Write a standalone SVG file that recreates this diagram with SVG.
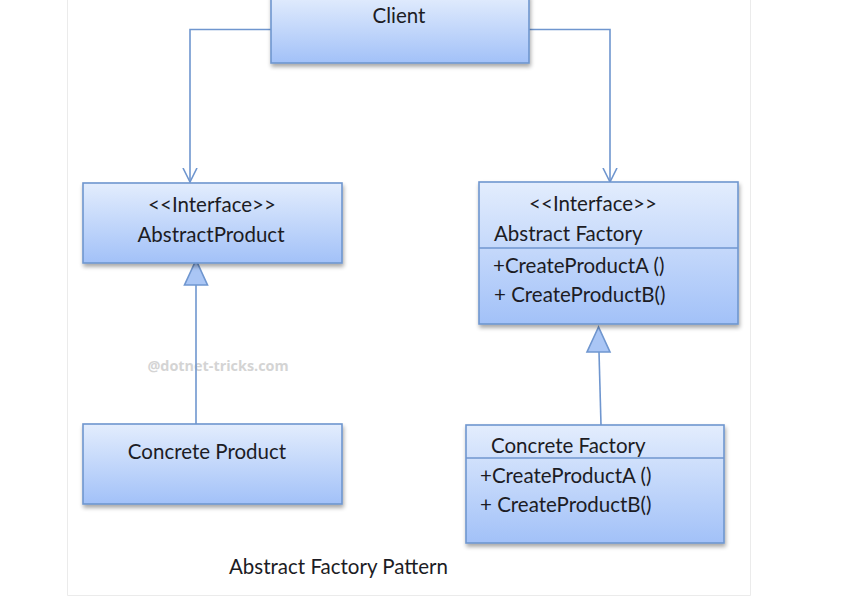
<svg xmlns="http://www.w3.org/2000/svg" width="868" height="596" viewBox="0 0 868 596">
<defs>
<linearGradient id="g" x1="0" y1="0" x2="0" y2="1">
<stop offset="0" stop-color="#e3edfd"/>
<stop offset="1" stop-color="#a2c1f8"/>
</linearGradient>
<filter id="sh" x="-5%" y="-5%" width="112%" height="125%">
<feGaussianBlur in="SourceAlpha" stdDeviation="2"/>
<feOffset dx="1" dy="3" result="b"/>
<feComponentTransfer><feFuncA type="linear" slope="0.35"/></feComponentTransfer>
<feMerge><feMergeNode/><feMergeNode in="SourceGraphic"/></feMerge>
</filter>
<marker id="open" markerWidth="16" markerHeight="16" refX="14" refY="8" orient="auto" markerUnits="userSpaceOnUse">
<path d="M0,1 L14,8 L0,15" fill="none" stroke="#6f96cf" stroke-width="1.6"/>
</marker>
</defs>
<style>
.box{fill:url(#g);stroke:#6f96cf;stroke-width:1.6;filter:url(#sh)}
.div{stroke:#6f96cf;stroke-width:1.4}
.t{font-family:Lato,"Liberation Sans",sans-serif;font-size:20.5px;fill:#1c1c24}
.c{stroke:#6f96cf;stroke-width:1.6;fill:none}
.tri{fill:#aac6f5;stroke:#6f96cf;stroke-width:1.6}
</style>
<rect x="0" y="0" width="868" height="596" fill="#ffffff"/>
<path d="M67.5,0 V595.5 H750.5 V0" fill="none" stroke="#ebebeb" stroke-width="1"/>
<text x="218" y="371" font-family="'Open Sans','DejaVu Sans',sans-serif" font-size="14.4px" font-weight="bold" fill="#d4d4d4" text-anchor="middle">@dotnet-tricks.com</text>
<g id="connectors">
<path class="c" d="M271,29.5 H190 V182" marker-end="url(#open)"/>
<path class="c" d="M529,29.5 H610 V182" marker-end="url(#open)"/>
<line class="c" x1="196" y1="285" x2="196" y2="424"/>
<polygon class="tri" points="196,260 184.5,285 207.5,285"/>
<line class="c" x1="599" y1="352" x2="601" y2="425"/>
<polygon class="tri" points="598.5,327 587,352 610,352"/>
</g>
<g id="client">
<rect class="box" x="271" y="-5" width="258" height="68"/>
<text class="t" x="399" y="23" text-anchor="middle">Client</text>
</g>
<g id="abstract-product">
<rect class="box" x="83" y="183" width="259" height="80"/>
<text class="t" x="212" y="212" text-anchor="middle">&lt;&lt;Interface&gt;&gt;</text>
<text class="t" x="211" y="242" text-anchor="middle">AbstractProduct</text>
</g>
<g id="abstract-factory">
<rect class="box" x="479" y="182" width="259" height="142"/>
<line class="div" x1="479" y1="248" x2="738" y2="248"/>
<text class="t" x="593" y="211" text-anchor="middle">&lt;&lt;Interface&gt;&gt;</text>
<text class="t" x="494" y="241">Abstract Factory</text>
<text class="t" x="493" y="273">+CreateProductA ()</text>
<text class="t" x="494" y="302">+ CreateProductB()</text>
</g>
<g id="concrete-product">
<rect class="box" x="83" y="424" width="259" height="80"/>
<text class="t" x="207" y="459" text-anchor="middle">Concrete Product</text>
</g>
<g id="concrete-factory">
<rect class="box" x="466" y="425" width="258" height="118"/>
<line class="div" x1="466" y1="458" x2="724" y2="458"/>
<text class="t" x="491" y="453">Concrete Factory</text>
<text class="t" x="480" y="483">+CreateProductA ()</text>
<text class="t" x="480" y="512">+ CreateProductB()</text>
</g>
<text class="t" x="229" y="574">Abstract Factory Pattern</text>
</svg>
